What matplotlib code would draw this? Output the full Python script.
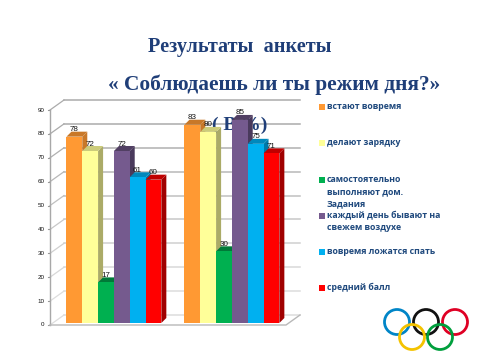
import matplotlib
matplotlib.use('Agg')
import matplotlib.pyplot as plt
from matplotlib.patches import Polygon, Circle, Rectangle

plt.rcParams['font.family'] = ['Liberation Sans', 'DejaVu Sans']

# данные
groups = [0, 1]
series = ['встают вовремя', 'делают зарядку', 'самостоятельно\nвыполняют дом.\nЗадания',
          'каждый день бывают на\nсвежем воздухе', 'вовремя ложатся спать', 'средний балл']
values = [[78, 83], [72, 80], [17, 30], [72, 85], [61, 75], [60, 71]]
front = ['#FF9933', '#FFFF99', '#00B050', '#755A8E', '#00B0F0', '#FF0000']
top = ['#C87828', '#CCCC7A', '#007A38', '#513F63', '#0088BC', '#C00000']
side = ['#C87828', '#ABAB67', '#007A38', '#4A3A5C', '#0078A8', '#A00000']
yticks = [0, 10, 20, 30, 40, 50, 60, 70, 80, 90]
grid_colors = ['#DDDDDD', '#DDDDDD', '#D8D8D8', '#D0D0D0', '#C8C8C8', '#C0C0C0', '#B8B8B8', '#B0B0B0', '#ABABAB', '#ABABAB']
legend_y = [107, 143, 180, 216, 252, 288]
ring_colors = ['#0085C7', '#111111', '#DF0024', '#F4C300', '#009F3D']

W, H = 480, 360
fig = plt.figure(figsize=(W / 100, H / 100), dpi=100, facecolor='white')

# оси в пикселях картинки
L, R, B, T = 50, 300, 325, 110
ax = fig.add_axes([L / W, 1 - B / H, (R - L) / W, (B - T) / H])
ax.set_xlim(-0.5415, 1.577)
ax.set_ylim(0, 90)
ax.axis('off')

bg = fig.add_axes([0, 0, 1, 1], zorder=-1)
bg.set_xlim(0, W)
bg.set_ylim(H, 0)
bg.axis('off')

# заголовки, (В %) лежит под диаграммой
title_color = '#1F3E78'
bg.text(240, 47, 'Результаты  анкеты', fontsize=14.6, fontweight='bold', family='Liberation Serif',
        color=title_color, ha='center', va='center')
bg.text(274, 85, '« Соблюдаешь ли ты режим дня?»', fontsize=15.4, fontweight='bold',
        family='Liberation Serif', color=title_color, ha='center', va='center')
bg.text(240, 125, '( В %)', fontsize=14, fontweight='bold', family='Liberation Serif',
        color=title_color, ha='center', va='center')

# стенка и сетка
dx, dy = 14, 10
for t, gc in zip(yticks, grid_colors):
    y = B - (B - T) * t / 90
    bg.plot([L, L + dx], [y, y - dy], color=gc, lw=0.9)
    bg.plot([L + dx, R], [y - dy, y - dy], color=gc, lw=1.1)
    bg.plot([L - 2, L], [y, y], color='#999999', lw=0.8)
    bg.text(L - 5.5, y, str(t), fontsize=4.5, ha='right', va='center', color='#111111')
bg.plot([L, L], [B, T], color='#A8A8A8', lw=1)
bg.plot([L, R - dx, R], [B, B, B - dy], color='#B8B8B8', lw=1)

# столбцы
width = 0.134
depth = 5 / 118
rise = 5 * 90 / 215
base = 2 * 90 / 215
label_gap = 7 * 90 / 215
for i in range(len(series)):
    off = (i - 3) * width
    for g in groups:
        x0 = g + off
        x1 = x0 + width
        v = values[i][g]
        z = 10 + i
        ax.add_patch(Polygon([[x1, base], [x1 + depth, base + rise], [x1 + depth, v + base + rise], [x1, v + base]],
                             facecolor=side[i], edgecolor='none', zorder=z))
        ax.add_patch(Polygon([[x0, v + base], [x0 + depth, v + base + rise], [x1 + depth, v + base + rise], [x1, v + base]],
                             facecolor=top[i], edgecolor='none', zorder=z))
        ax.bar(x0, v, width, bottom=base, align='edge', color=front[i], edgecolor='none', zorder=z + 0.1)
        ax.text(x0 + width * 0.5, v + base + label_gap, str(v), fontsize=5.8, ha='center', va='center',
                color='#111111', zorder=30)

# легенда
for name, ly, c in zip(series, legend_y, front):
    bg.add_patch(Rectangle((319, ly - 3), 6, 6, facecolor=c, edgecolor='none'))
    bg.text(327, ly - 5, name, fontsize=6.35, fontweight='bold', family='Open Sans', color='#1F497D',
            ha='left', va='top', linespacing=1.45)

# кольца
ring_x = [397, 426, 455, 412, 440]
ring_y = [322, 322, 322, 337, 337]
for cx, cy, c in zip(ring_x, ring_y, ring_colors):
    bg.add_patch(Circle((cx, cy), 12.5, fill=False, edgecolor=c, lw=2))

fig.savefig('out.png', dpi=100)
